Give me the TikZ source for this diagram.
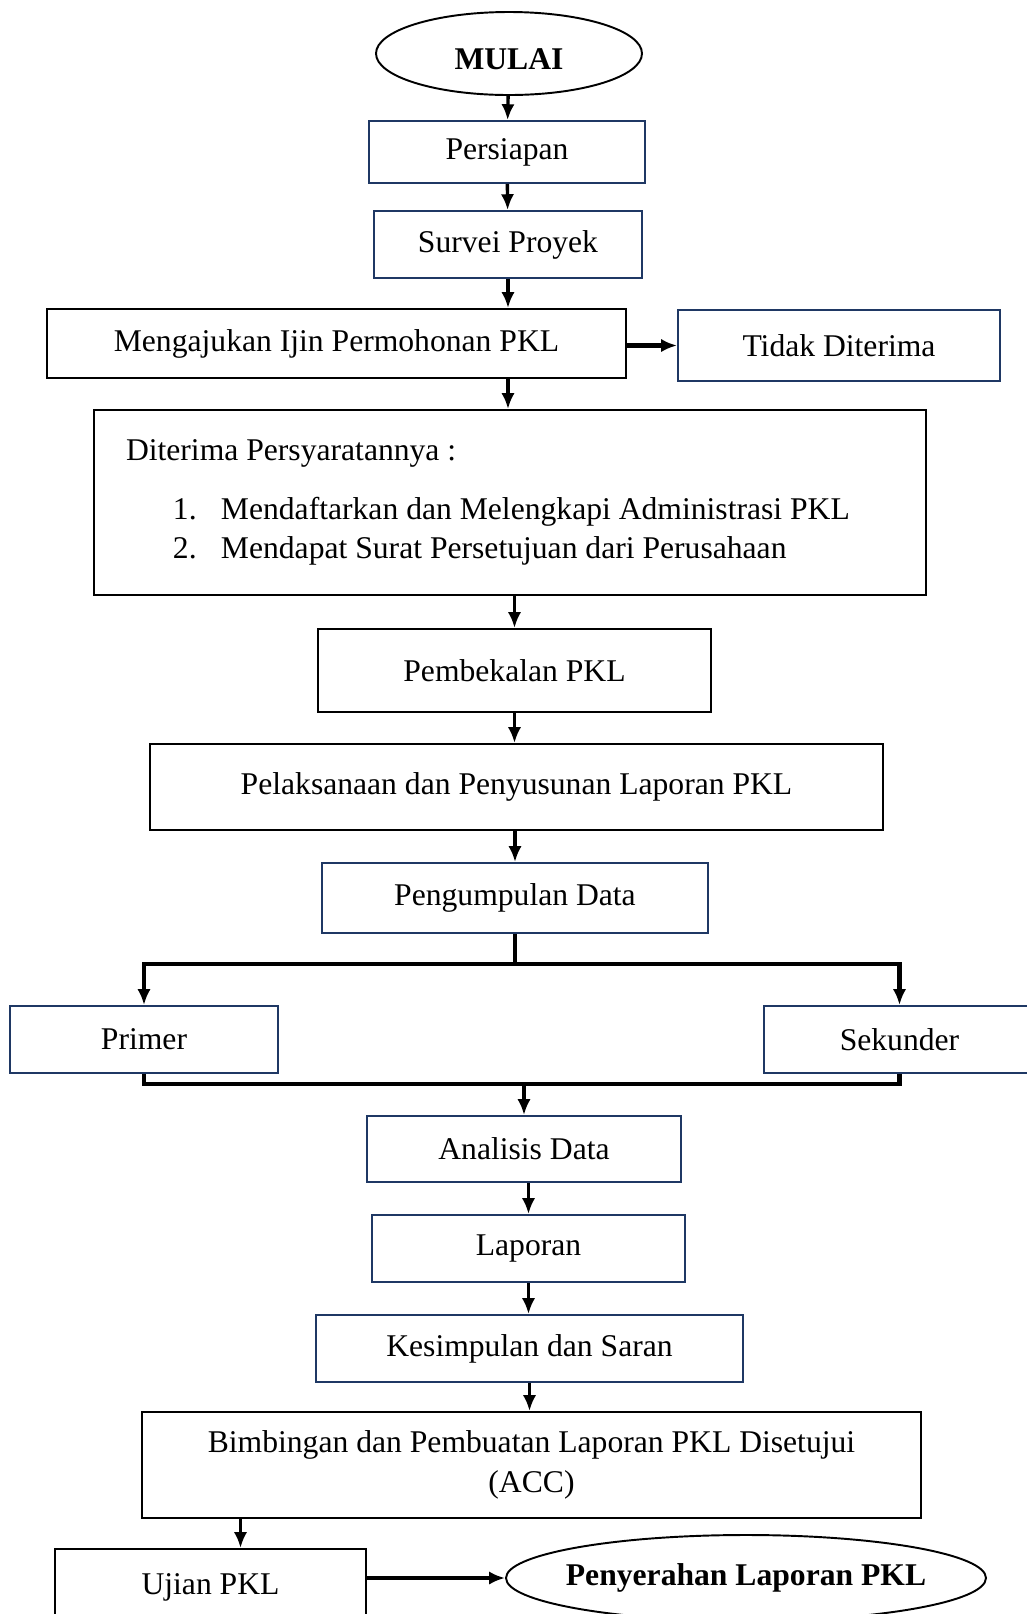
\documentclass[tikz,border=0pt]{standalone}
\usepackage{fontspec}
\setmainfont{Liberation Serif}
\usepackage{tikz}
\usetikzlibrary{arrows.meta}
\usetikzlibrary{shapes.geometric}
\tikzset{>={Latex[length=9pt,width=7.5pt]}}
\definecolor{navy}{RGB}{31,56,100}
\newcommand{\pxl}{0.02cm}

\begin{document}
\fontsize{18}{22.5}\selectfont
\begin{tikzpicture}[x=0.02cm, y=-0.02cm,
    kotak/.style={draw, line width=1.1pt, inner sep=0pt, align=flush center},
    kotakbiru/.style={kotak, draw=navy},
    ujung/.style={draw, ellipse, line width=1.1pt, inner sep=0pt, font=\bfseries},
    panah/.style={->, line width=1.9pt},
    cabang/.style={line width=2.6pt}]
            \useasboundingbox (0,0) rectangle (1027,1614);
            \node [ujung, minimum width=266*\pxl, minimum height=83*\pxl] (mulai) at (509,53.5) {\raisebox{-0.31cm}[0pt][0pt]{\makebox[0pt]{MULAI}}};
            \node [kotakbiru, minimum width=276*\pxl, minimum height=62*\pxl] (persiapan) at (507,152) {Persiapan};
            \node [kotakbiru, minimum width=268*\pxl, minimum height=67*\pxl] (survei) at (508,244.5) {Survei Proyek};
            \node [kotak, minimum width=579*\pxl, minimum height=69*\pxl] (ijin) at (336.5,343.5) {Mengajukan Ijin Permohonan PKL};
            \node [kotakbiru, minimum width=322*\pxl, minimum height=71*\pxl] (tidak) at (839,345.5) {Tidak Diterima};
            \node [kotak, minimum height=185*\pxl, text width=768*\pxl, inner xsep=32*\pxl, align=flush left] (terima) at (510,502.5)
                {Diterima Persyaratannya :\\[11pt]
                 \hspace*{0.94cm}\makebox[0.96cm][l]{1.}Mendaftarkan dan Melengkapi Administrasi PKL\\
                 \hspace*{0.94cm}\makebox[0.96cm][l]{2.}Mendapat Surat Persetujuan dari Perusahaan};
            \node [kotak, minimum width=393*\pxl, minimum height=83*\pxl] (bekal) at (514.5,670.5) {Pembekalan PKL};
            \node [kotak, minimum width=733*\pxl, minimum height=86*\pxl] (laksana) at (516.5,787) {Pelaksanaan dan Penyusunan Laporan PKL};
            \node [kotakbiru, minimum width=386*\pxl, minimum height=70*\pxl] (kumpul) at (515,898) {Pengumpulan Data};
            \node [kotakbiru, minimum width=268*\pxl, minimum height=67*\pxl] (primer) at (144,1039.5) {Primer};
            \node [kotakbiru, minimum width=271*\pxl, minimum height=67*\pxl] (sekunder) at (899.5,1039.5) {Sekunder};
            \node [kotakbiru, minimum width=314*\pxl, minimum height=66*\pxl] (analisis) at (524,1149) {Analisis Data};
            \node [kotakbiru, minimum width=313*\pxl, minimum height=67*\pxl] (laporan) at (528.5,1248.5) {Laporan};
            \node [kotakbiru, minimum width=427*\pxl, minimum height=67*\pxl] (simpul) at (529.5,1348.5) {Kesimpulan dan Saran};
            \node [kotak, minimum width=779*\pxl, minimum height=106*\pxl] (bimbing) at (531.5,1465) {Bimbingan dan Pembuatan Laporan PKL Disetujui\\(ACC)};
            \node [kotak, minimum width=311*\pxl, minimum height=76*\pxl] (ujian) at (210.5,1587) {Ujian PKL};
            \node [ujung, minimum width=480*\pxl, minimum height=86*\pxl] (serah) at (746,1578) {\makebox[0pt]{Penyerahan Laporan PKL}};
            \coordinate (pisah) at (518,964);
            \coordinate (gabung) at (524,1084);
            \draw [panah] (mulai) -- (persiapan);
            \draw [panah] (persiapan) -- (survei);
            \draw [panah] (survei.south) -- (survei.south |- ijin.north);
            \draw [panah, line width=2.6pt] (ijin.east |- tidak.west) -- (tidak.west);
            \draw [panah] (survei.south |- ijin.south) -- (survei.south |- terima.north);
            \draw [panah] (bekal.north |- terima.south) -- (bekal.north);
            \draw [panah] (bekal.south) -- (bekal.south |- laksana.north);
            \draw [panah] (laksana.south -| kumpul.north) -- (kumpul.north);
            \draw [cabang] (kumpul.south) -- (kumpul.south |- pisah);
            \draw [cabang, ->] (kumpul.south |- pisah) -| (primer.north);
            \draw [cabang, ->] (kumpul.south |- pisah) -| (sekunder.north);
            \draw [cabang] (primer.south) |- (gabung) -| (sekunder.south);
            \draw [panah] (gabung) -- (analisis.north);
            \draw [panah] (analisis.south -| laporan.north) -- (laporan.north);
            \draw [panah] (laporan.south) -- (laporan.south |- simpul.north);
            \draw [panah] (simpul.south) -- (simpul.south |- bimbing.north);
            \draw [panah] ([xshift=30*\pxl]ujian.north |- bimbing.south) -- ([xshift=30*\pxl]ujian.north);
            \draw [panah, line width=2.6pt] (serah.west -| ujian.east) -- (serah.west);
        \end{tikzpicture}
\end{document}
